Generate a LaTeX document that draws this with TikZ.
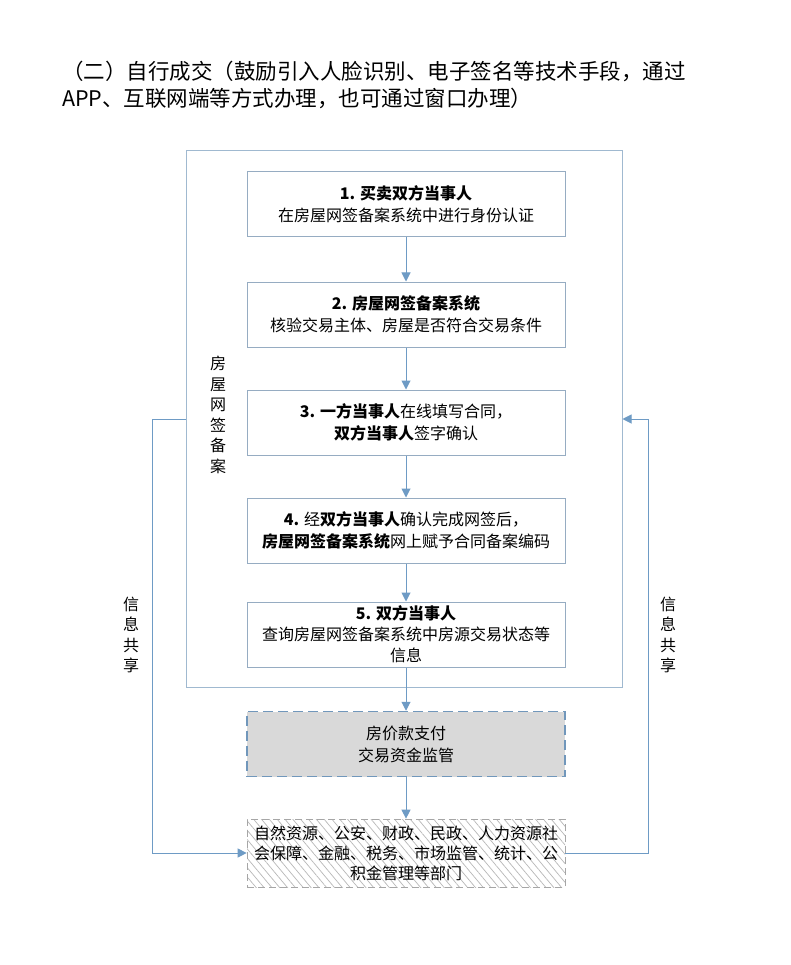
\documentclass[tikz,border=0pt]{standalone}
\usepackage{fontspec}
\setmainfont{Noto Sans CJK SC}
\usetikzlibrary{arrows.meta,patterns.meta}
\definecolor{framec}{RGB}{160,185,208}
\definecolor{linkc}{RGB}{110,155,197}
\definecolor{boxc}{RGB}{150,172,194}

\begin{document}
\begin{tikzpicture}[x=1pt,y=-1pt,
	stepbox/.style={draw=boxc, line width=1pt, minimum width=318pt, minimum height=65pt, inner sep=0pt, align=center, font=\fontsize{16}{22}\selectfont},
	link/.style={draw=linkc, line width=1pt, -{Triangle[length=9pt,width=9pt]}},
	side/.style={align=center, inner sep=0pt, font=\fontsize{16}{20.5}\selectfont}]
	\useasboundingbox[fill=white] (0,0) rectangle (790,965);
	
	\node[anchor=west, inner sep=0pt, font=\fontsize{21.5}{27}\selectfont] (t1) at (62,71) {（二）自行成交（鼓励引入人脸识别、电子签名等技术手段，通过};
	\node[anchor=west, inner sep=0pt, font=\fontsize{21.5}{27}\selectfont] (t2) at (62,98) {APP、互联网端等方式办理，也可通过窗口办理）};
	
	\node[draw=framec, line width=1pt, minimum width=436pt, minimum height=536pt, inner sep=0pt] (frame) at (404,419) {};
	
	\node[stepbox] (s1) at (406,204.5) {\textbf{1. 买卖双方当事人}\\在房屋网签备案系统中进行身份认证};
	\node[stepbox] (s2) at (406,314.5) {\textbf{2. 房屋网签备案系统}\\核验交易主体、房屋是否符合交易条件};
	\node[stepbox] (s3) at (406,422.5) {\textbf{3. 一方当事人}在线填写合同，\\\textbf{双方当事人}签字确认};
	\node[stepbox] (s4) at (406,530.5) {\textbf{4.} 经\textbf{双方当事人}确认完成网签后，\\\textbf{房屋网签备案系统}网上赋予合同备案编码};
	\node[stepbox, font=\fontsize{16}{21}\selectfont] (s5) at (406,634.5) {\textbf{5. 双方当事人}\\查询房屋网签备案系统中房源交易状态等\\信息};
	
	\node[stepbox, draw=linkc!85!gray, line width=1.5pt, dash pattern=on 10pt off 5pt, fill=black!15] (pay) at (406,744) {房价款支付\\交易资金监管};
	\node[stepbox, draw=black!35, dash pattern=on 7pt off 4pt, minimum height=68pt, pattern={Lines[angle=-50,distance=6pt,line width=0.7pt]}, pattern color=black!28, font=\fontsize{16}{20}\selectfont] (dept) at (406,853) {自然资源、公安、财政、民政、人力资源社\\会保障、金融、税务、市场监管、统计、公\\积金管理等部门};
	
	\node[side] (lbl) at (218,415) {房\\屋\\网\\签\\备\\案};
	\node[side] (shl) at (131,635) {信\\息\\共\\享};
	\node[side] (shr) at (668,635) {信\\息\\共\\享};
	
	\draw[link] (s1) -- (s2);
	\draw[link] (s2) -- (s3);
	\draw[link] (s3) -- (s4);
	\draw[link] (s4) -- (s5);
	\draw[link] (s5) -- (pay);
	\draw[link] (pay) -- (dept);
	
	\draw[link] (frame.west) -- ++(-33,0) |- (dept.west);
	\draw[link] (dept.east) -- ++(83,0) |- (frame.east);
	
\end{tikzpicture}
\end{document}
